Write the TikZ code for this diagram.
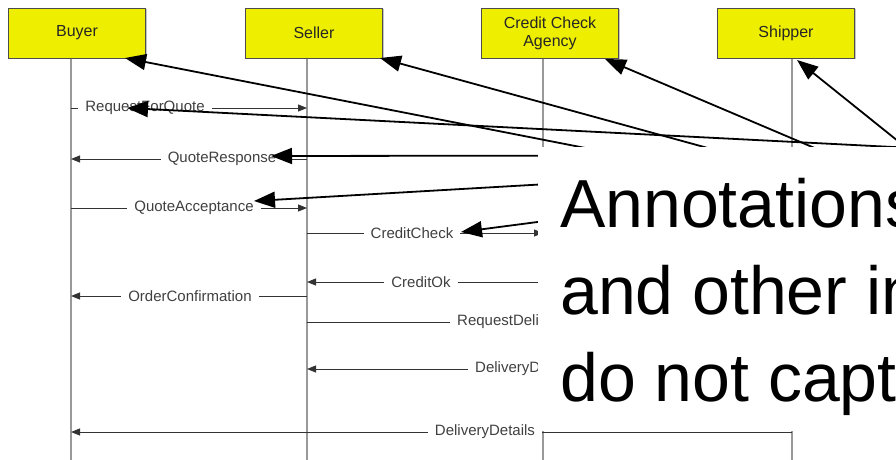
\documentclass[tikz,border=0pt]{standalone}
\usepackage{fontspec}
\setmainfont{Liberation Sans}
\usetikzlibrary{arrows.meta,calc,shadows}
\definecolor{actoryellow}{RGB}{238,238,0}
\begin{document}
\begin{tikzpicture}[x=1pt,y=-1pt,
  actor/.style={draw=black!70, line width=0.8pt, fill=actoryellow,
    minimum width=137pt, minimum height=50pt, inner sep=0pt, align=center,
    font=\fontsize{16}{18}\selectfont, text=black!85,
    drop shadow={shadow xshift=1.5pt, shadow yshift=-1.5pt, fill=black!45}},
  lifeline/.style={draw=black!40, line width=1.4pt},
  msg/.style={draw=black!80, line width=1pt, -{Triangle[length=9pt,width=7pt]}},
  msglabel/.style={fill=white, inner xsep=7pt, inner ysep=3pt,
    font=\fontsize{15}{17}\selectfont, text=black!75},
  note/.style={draw=black, line width=1.8pt, -{Triangle[length=21pt,width=16pt]}},
  bignote/.style={anchor=base west, inner sep=0pt, font=\fontsize{68}{80}\selectfont}]
\useasboundingbox (0,0) rectangle (896,460);
\clip (0,0) rectangle (896,460);
\fill[white] (0,0) rectangle (896,460);

% lifeline positions and message rows
\coordinate (Lb) at (71,58);
\coordinate (Ls) at (307,58);
\coordinate (Lc) at (543,58);
\coordinate (Lh) at (792,58);
\coordinate (bottom) at (0,462);
\coordinate (r1) at (0,108);
\coordinate (r2) at (0,159);
\coordinate (r3) at (0,208);
\coordinate (r4) at (0,233);
\coordinate (r5) at (0,282);
\coordinate (r6) at (0,296);
\coordinate (r7) at (0,322);
\coordinate (r8) at (0,369);
\coordinate (r9) at (0,432);

% lifelines
\foreach \l in {Lb,Ls,Lc,Lh}
  \draw[lifeline] (\l) -- (\l |- bottom);

% participants
\node[actor] (buyer) at (77,33) {Buyer};
\node[actor] (seller) at (314,33) {Seller};
\node[actor] (cca) at (550,33) {Credit Check\\Agency};
\node[actor] (shipper) at (786,33) {Shipper};

% messages
\draw[msg] (Lb |- r1) -- (Ls |- r1);
\draw[msg] (Ls |- r2) -- (Lb |- r2);
\draw[msg] (Lb |- r3) -- (Ls |- r3);
\draw[msg] (Ls |- r4) -- (Lc |- r4);
\draw[msg] (Lc |- r5) -- (Ls |- r5);
\draw[msg] (Ls |- r6) -- (Lb |- r6);
\draw[msg] (Ls |- r7) -- (Lh |- r7);
\draw[msg] (Lh |- r8) -- (Ls |- r8);
\draw[msg] (Lh |- r9) -- (Lb |- r9);

% message labels
\node[msglabel] (rfq) at (145,108) {RequestForQuote};
\node[msglabel] (qr) at (222,159) {QuoteResponse};
\node[msglabel] (qa) at (194,208) {QuoteAcceptance};
\node[msglabel] (cc) at (412,233) {CreditCheck};
\node[msglabel] (cok) at (421,282) {CreditOk};
\node[msglabel] (oc) at (190,296) {OrderConfirmation};
\node[msglabel, anchor=west] (rd) at (450,322) {RequestDeli};
\node[msglabel, anchor=west] (dd) at (468,369) {DeliveryD};
\node[msglabel] (ddet) at (485,432) {DeliveryDetails};

% annotation pointers
\coordinate (src1) at (1010,231);
\coordinate (src2) at (1050,155);
\draw[note] (src1) -- ($(buyer.center)+(48,25)$);
\draw[note] (src1) -- ($(seller.center)+(66,25)$);
\draw[note] (src1) -- ($(cca.center)+(55,26)$);
\draw[note] (src1) -- ($(shipper.center)+(11,27)$);
\draw[note] (src2) -- ($(rfq.center)+(-18,0)$);
\draw[note] (src2) -- ($(qr.center)+(49,-3)$);
\draw[note] (src2) -- ($(qa.center)+(60,-7)$);
\draw[note] (src2) -- ($(cc.center)+(49,-1)$);

% annotation panel
\node[fill=white, inner sep=0pt, minimum width=370pt, minimum height=284pt,
  anchor=north west] (panel) at (538,147) {};
\node[bignote] (note1) at (560,227) {Annotations};
\node[bignote] (note2) at (560,314) {and other in};
\node[bignote] (note3) at (560,401) {do not capt};
\end{tikzpicture}
\end{document}
